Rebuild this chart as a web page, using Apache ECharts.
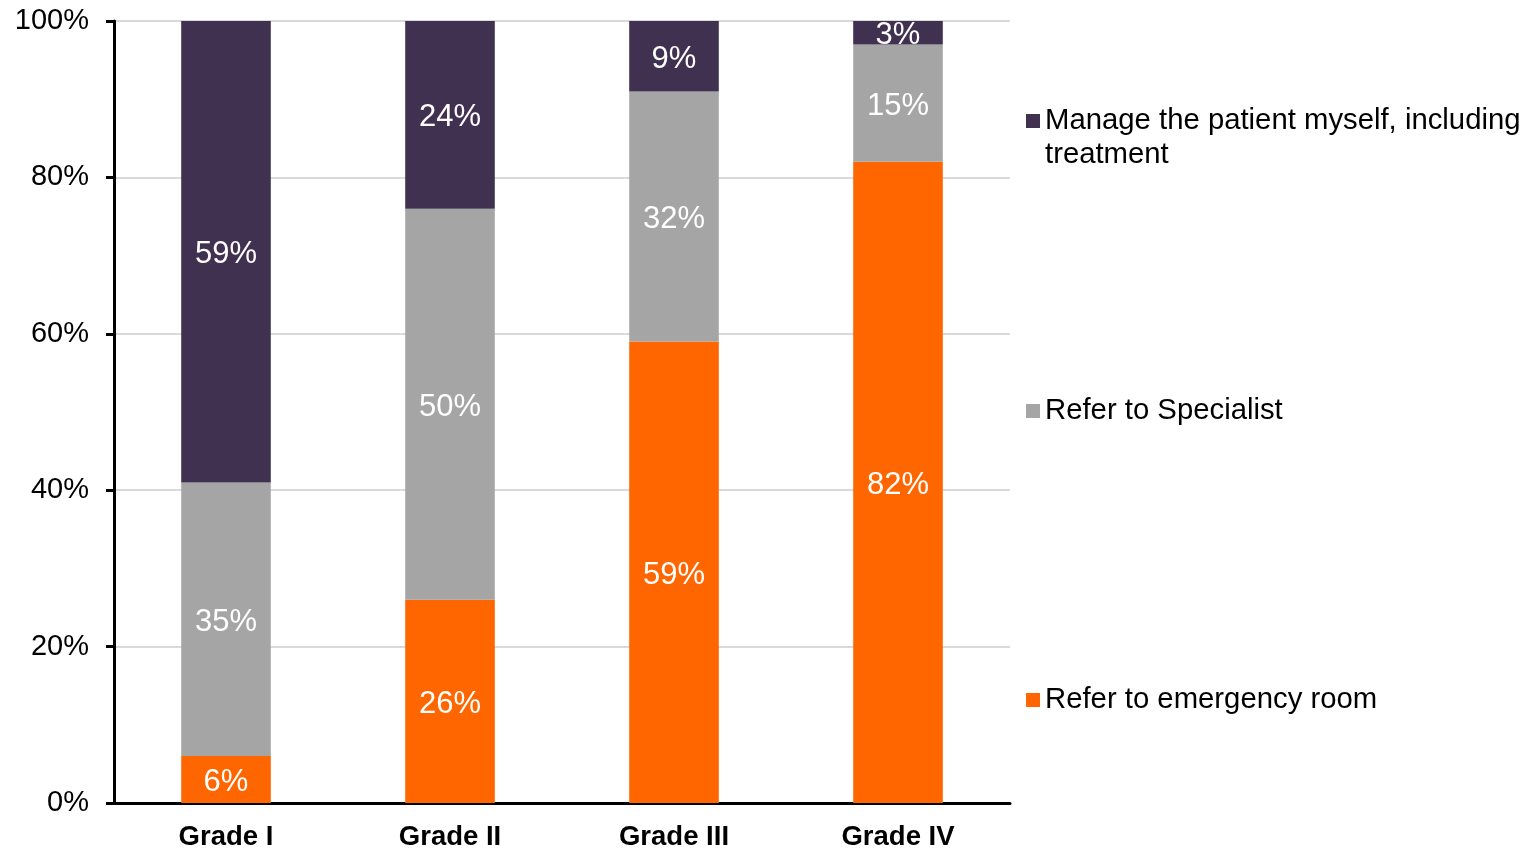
<!DOCTYPE html>
<html>
<head>
<meta charset="utf-8">
<title>Referral decision by grade</title>
<script src="https://cdn.jsdelivr.net/npm/echarts@6/dist/echarts.min.js"></script>
<style>
  html, body { margin: 0; padding: 0; background: #ffffff; }
  #chart { width: 1524px; height: 850px; }
</style>
</head>
<body>
<div id="chart"></div>
<script>
// Categories along the x axis
const grades = ['Grade I', 'Grade II', 'Grade III', 'Grade IV'];

// Share of respondents per grade (percent), stacked bottom to top
const emergencyRoom = [6, 26, 59, 82];
const specialist = [35, 50, 32, 15];
const manageMyself = [59, 24, 9, 3];

// Series names as shown in the legend
const seriesNames = [
  'Refer to emergency room',
  'Refer to Specialist',
  'Manage the patient myself, including\ntreatment'
];

// Y axis ticks
const yMin = 0;
const yMax = 100;
const yStep = 20;

const FONT = '"Liberation Sans", Arial, sans-serif';
const colors = ['#ff6600', '#a5a5a5', '#403151'];

const chart = echarts.init(document.getElementById('chart'), null, { renderer: 'canvas' });

function barSeries(name, data, color) {
  return {
    name: name,
    type: 'bar',
    stack: 'total',
    barWidth: '40%',
    data: data,
    itemStyle: { color: color },
    label: {
      show: true,
      position: 'inside',
      offset: [0, 3],
      color: '#ffffff',
      fontFamily: FONT,
      fontSize: 31,
      formatter: p => p.value + '%'
    },
    emphasis: { disabled: true }
  };
}

function legendFor(name, top, formatter) {
  return {
    data: [name],
    orient: 'vertical',
    left: 1026,
    top: top,
    padding: 0,
    itemWidth: 14,
    itemHeight: 14,
    icon: 'rect',
    selectedMode: false,
    formatter: formatter,
    textStyle: {
      fontFamily: FONT,
      fontSize: 29.3,
      color: '#000000',
      lineHeight: 34
    }
  };
}

chart.setOption({
  animation: false,
  backgroundColor: '#ffffff',
  grid: {
    left: 114, right: 514, top: 21, bottom: 47,
    containLabel: false,
    outerBoundsMode: 'none'
  },
  legend: [
    // leading blank line keeps the marker level with the first text line
    legendFor(seriesNames[2], 70, n => '\n' + n),
    legendFor(seriesNames[1], 394),
    legendFor(seriesNames[0], 683)
  ],
  xAxis: {
    type: 'category',
    data: grades,
    axisLine: { show: true, lineStyle: { color: '#000000', width: 3 } },
    axisTick: { show: false },
    axisLabel: {
      color: '#000000',
      fontFamily: FONT,
      fontWeight: 'bold',
      fontSize: 27.5,
      margin: 20
    }
  },
  yAxis: {
    type: 'value',
    min: yMin,
    max: yMax,
    interval: yStep,
    axisLine: { show: true, lineStyle: { color: '#000000', width: 3 } },
    axisTick: { show: true, length: 8, lineStyle: { color: '#000000', width: 3 } },
    splitLine: { show: true, lineStyle: { color: '#d9d9d9', width: 2 } },
    axisLabel: {
      color: '#000000',
      fontFamily: FONT,
      fontSize: 29,
      margin: 25,
      formatter: v => v + '%'
    }
  },
  series: [
    barSeries(seriesNames[0], emergencyRoom, colors[0]),
    barSeries(seriesNames[1], specialist, colors[1]),
    barSeries(seriesNames[2], manageMyself, colors[2])
  ]
});
</script>
</body>
</html>
